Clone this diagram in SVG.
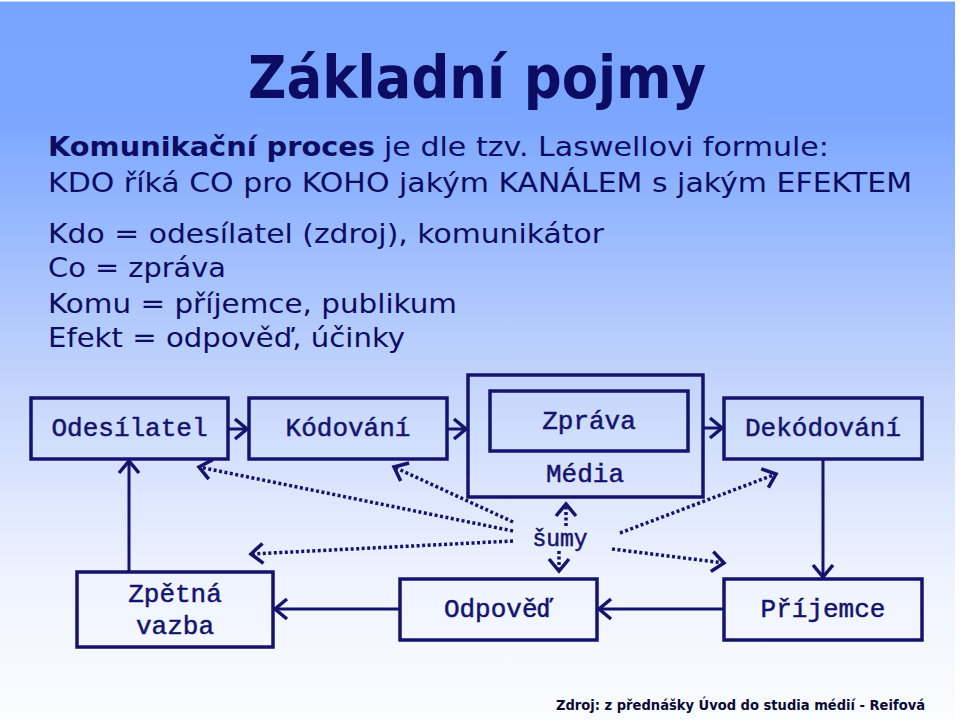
<svg xmlns="http://www.w3.org/2000/svg" width="960" height="720" viewBox="0 0 960 720">
  <defs>
    <linearGradient id="bg" x1="0" y1="0" x2="0" y2="1">
      <stop offset="0" stop-color="#78a4ff"/>
      <stop offset="0.16" stop-color="#7ba6ff"/>
      <stop offset="0.55" stop-color="#c7d7fc"/>
      <stop offset="0.8" stop-color="#eef3fe"/>
      <stop offset="1" stop-color="#fbfcff"/>
    </linearGradient>
    <marker id="arr" markerUnits="userSpaceOnUse" markerWidth="34" markerHeight="34" viewBox="-17 -17 34 34" refX="0" refY="0" orient="auto">
      <path d="M-12,-10 L0,0 L-12,10" fill="none" stroke="#14146e" stroke-width="3.5" stroke-linejoin="miter"/>
    </marker>
  </defs>
  <style>
    .txt { font-family: "DejaVu Sans", Verdana, sans-serif; fill: #0c0c62; }
    .box { fill: none; stroke: #14146e; stroke-width: 3.5; }
    .lbl { font-family: "Liberation Mono", "Courier New", monospace; font-size: 26px; fill: #14146e; text-anchor: middle; stroke: #14146e; stroke-width: 0.5; }
    .solid { fill: none; stroke: #14146e; stroke-width: 3; marker-end: url(#arr); }
    .dot { fill: none; stroke: #14146e; stroke-width: 3.5; stroke-dasharray: 3 2.5; marker-end: url(#arr); }
  </style>

  <rect x="0" y="0" width="960" height="720" fill="url(#bg)"/>
  <rect x="955" y="0" width="5" height="720" fill="#ffffff"/>
  <rect x="0" y="0" width="960" height="1.5" fill="#ffffff"/>

  <text class="txt" x="248" y="98" font-size="58" font-weight="bold" textLength="458" lengthAdjust="spacingAndGlyphs">Základní pojmy</text>

  <text class="txt" x="48" y="156" font-size="27" font-weight="bold" textLength="327" lengthAdjust="spacingAndGlyphs">Komunikační proces</text>
  <text class="txt" x="384" y="156" font-size="27" textLength="445" lengthAdjust="spacingAndGlyphs">je dle tzv. Laswellovi formule:</text>
  <text class="txt" x="48" y="192" font-size="27" textLength="864" lengthAdjust="spacingAndGlyphs">KDO říká CO pro KOHO jakým KANÁLEM s jakým EFEKTEM</text>
  <text class="txt" x="48" y="243" font-size="27" textLength="556" lengthAdjust="spacingAndGlyphs">Kdo = odesílatel (zdroj), komunikátor</text>
  <text class="txt" x="48" y="277" font-size="27" textLength="178" lengthAdjust="spacingAndGlyphs">Co = zpráva</text>
  <text class="txt" x="48" y="313" font-size="27" textLength="409" lengthAdjust="spacingAndGlyphs">Komu = příjemce, publikum</text>
  <text class="txt" x="48" y="347" font-size="27" textLength="357" lengthAdjust="spacingAndGlyphs">Efekt = odpověď, účinky</text>

  <g id="connectors">
    <path class="solid" d="M228,429 H247"/>
    <path class="solid" d="M447,429 H466"/>
    <path class="solid" d="M703,428 H722"/>
    <path class="solid" d="M823,459 V577"/>
    <path class="solid" d="M724,609 H599"/>
    <path class="solid" d="M400,609 H275"/>
    <path class="solid" d="M129,572 V461"/>
    <path class="dot" d="M513,531 L199,467"/>
    <path class="dot" d="M513,522 L394,467"/>
    <path class="dot" d="M513,541 L251,554"/>
    <path class="dot" d="M620,533 L776,474"/>
    <path class="dot" d="M612,549 L724,563"/>
    <path class="dot" d="M566,526 V504"/>
    <path class="dot" d="M559,551 V571"/>
  </g>

  <g id="odesilatel">
    <rect class="box" x="31" y="398" width="197" height="61"/>
    <text class="lbl" x="129.5" y="436">Odesílatel</text>
  </g>
  <g id="kodovani">
    <rect class="box" x="249" y="398" width="198" height="61"/>
    <text class="lbl" x="348" y="436">Kódování</text>
  </g>
  <g id="media">
    <rect class="box" x="468" y="375" width="235" height="122"/>
    <text class="lbl" x="585" y="482">Média</text>
  </g>
  <g id="zprava">
    <rect class="box" x="490" y="391" width="198" height="60"/>
    <text class="lbl" x="589" y="429">Zpráva</text>
  </g>
  <g id="dekodovani">
    <rect class="box" x="724" y="398" width="198" height="61"/>
    <text class="lbl" x="823" y="436">Dekódování</text>
  </g>
  <g id="sumy">
    <text class="lbl" x="560" y="546" style="font-size:23px">šumy</text>
  </g>
  <g id="zpetna-vazba">
    <rect class="box" x="77" y="572" width="196" height="75"/>
    <text class="lbl" x="175" y="602">Zpětná</text>
    <text class="lbl" x="175" y="634">vazba</text>
  </g>
  <g id="odpoved">
    <rect class="box" x="400" y="579" width="197" height="61"/>
    <text class="lbl" x="498.5" y="617">Odpověď</text>
  </g>
  <g id="prijemce">
    <rect class="box" x="724" y="579" width="198" height="61"/>
    <text class="lbl" x="823" y="617">Příjemce</text>
  </g>

  <text x="556" y="710" font-family="DejaVu Sans Condensed, DejaVu Sans, sans-serif" font-weight="bold" font-size="14.5" fill="#0a0a33" textLength="369" lengthAdjust="spacingAndGlyphs">Zdroj: z přednášky Úvod do studia médií - Reifová</text>
</svg>
